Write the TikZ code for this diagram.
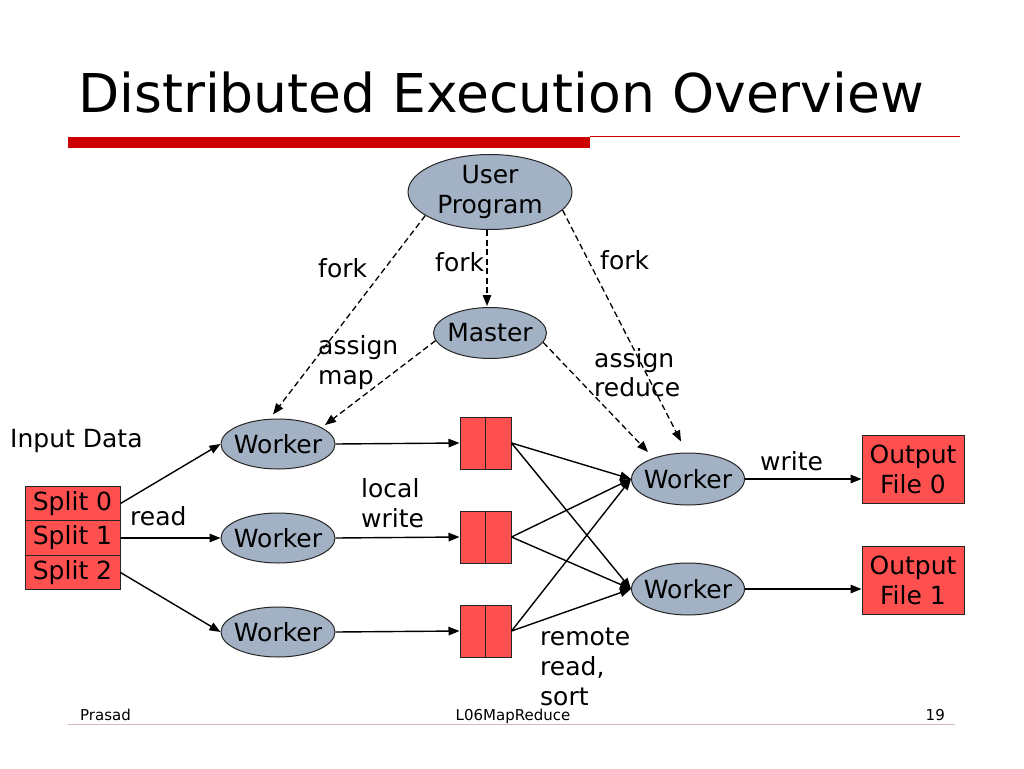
\documentclass[tikz,border=0pt]{standalone}
\usepackage{fontspec}
\setmainfont{DejaVu Sans}
\usetikzlibrary{shapes.geometric,arrows.meta}
\definecolor{nodefill}{RGB}{163,177,196}
\definecolor{boxred}{RGB}{255,80,80}
\definecolor{barred}{RGB}{204,0,0}
\definecolor{footline}{RGB}{215,180,188}
\begin{document}
\begin{tikzpicture}[x=1pt,y=-1pt,
  lbl/.style={font=\fontsize{25}{30}\selectfont, inner sep=0pt, anchor=base west},
  foot/.style={font=\fontsize{15}{18}\selectfont, inner sep=0pt},
  proc/.style={ellipse, draw=black!85, line width=1pt, fill=nodefill, inner sep=0pt,
    label={[font=\fontsize{25}{30}\selectfont, inner sep=0pt, align=center]center:#1}},
  store/.style={rectangle, draw=black!85, line width=1pt, fill=boxred, inner sep=0pt, font=\fontsize{25}{30}\selectfont},
  flow/.style={line width=1.4pt, -{Triangle[length=11pt,width=8.5pt]}},
  ctrl/.style={line width=1.3pt, dash pattern=on 6pt off 3.5pt, -{Triangle[length=11pt,width=8.5pt]}},
]
\useasboundingbox[fill=white] (0,0) rectangle (1024,768);

% title and rules
\node[anchor=base west, inner sep=0pt, font=\fontsize{53.5}{60}\selectfont] (title) at (78,112) {Distributed Execution Overview};
\fill[barred] (68,137) rectangle (590,148);
\draw[barred, line width=1pt] (590,136.5) -- (960,136.5);
\draw[footline, line width=1pt] (68,724.5) -- (955,724.5);

% nodes
\node[proc={User\\Program}, minimum width=164, minimum height=75] (up) at (490,192) {};
\node[proc=Master, minimum width=113, minimum height=51] (master) at (490,333) {};
\node[proc=Worker, minimum width=114, minimum height=50] (w1) at (278,444) {};
\node[proc=Worker, minimum width=114, minimum height=50] (w2) at (278,538) {};
\node[proc=Worker, minimum width=114, minimum height=50] (w3) at (278,632) {};
\node[proc=Worker, minimum width=113, minimum height=52] (r0) at (688,479) {};
\node[proc=Worker, minimum width=113, minimum height=52] (r1) at (688,589) {};

\node[store, minimum width=95, minimum height=34.5] (s0) at (72.5,503.5) {Split 0};
\node[store, minimum width=95, minimum height=34.5] (s1) at (72.5,538) {Split 1};
\node[store, minimum width=95, minimum height=34.5] (s2) at (72.5,572.5) {Split 2};

\node[store, minimum width=51, minimum height=52] (b1) at (485.5,443) {};
\node[store, minimum width=51, minimum height=52] (b2) at (485.5,537) {};
\node[store, minimum width=51, minimum height=52] (b3) at (485.5,631) {};
\draw[black!85, line width=1pt] (b1.north) -- (b1.south);
\draw[black!85, line width=1pt] (b2.north) -- (b2.south);
\draw[black!85, line width=1pt] (b3.north) -- (b3.south);

\node[store, minimum width=102, minimum height=68, align=center] (o0) at (913,469) {Output\\File 0};
\node[store, minimum width=102, minimum height=68, align=center] (o1) at (913,580) {Output\\File 1};

% solid flows
\draw[flow] (s0.east) -- (w1.west);
\draw[flow] (s1.east) -- (w2.west);
\draw[flow] (s2.east) -- (w3.west);
\draw[flow] (w1.east) -- (b1.west);
\draw[flow] (w2.east) -- (b2.west);
\draw[flow] (w3.east) -- (b3.west);
\draw[flow] (b1.east) -- (r0.west);
\draw[flow] (b1.east) -- (r1.west);
\draw[flow] (b2.east) -- (r0.west);
\draw[flow] (b2.east) -- (r1.west);
\draw[flow] (b3.east) -- (r0.west);
\draw[flow] (b3.east) -- (r1.west);
\draw[flow] (r0.east) -- (r0.east -| o0.west);
\draw[flow] (r1.east) -- (r1.east -| o1.west);

% dashed control
\draw[ctrl] (up.200) -- ([shift={(-5,-4)}]w1.north);
\draw[ctrl] ([xshift=-3pt]up.south) -- ([xshift=-3pt,yshift=1pt]master.north);
\draw[ctrl] (up.-14) -- ([shift={(-7,-11)}]r0.north);
\draw[ctrl] (master.188) -- ([shift={(47,-19)}]w1.center);
\draw[ctrl] (master.-10) -- ([shift={(-40,-27)}]r0.center);

% labels
\node[lbl] (fork1) at (318,277) {fork};
\node[lbl] (fork2) at (435,271) {fork};
\node[lbl] (fork3) at (600,269) {fork};
\node[lbl] (am1) at (318,354) {assign};
\node[lbl] (am2) at (318,384) {map};
\node[lbl] (ar1) at (594,367) {assign};
\node[lbl] (ar2) at (594,396) {reduce};
\node[lbl] (input) at (10,447) {Input Data};
\node[lbl] (read) at (130,525) {read};
\node[lbl] (lw1) at (361,497) {local};
\node[lbl] (lw2) at (361,527) {write};
\node[lbl] (write) at (760,470) {write};
\node[lbl] (rr1) at (540,645) {remote};
\node[lbl] (rr2) at (540,675) {read,};
\node[lbl] (rr3) at (540,705) {sort};

% footer
\node[foot, anchor=base west] (fl) at (80,720) {Prasad};
\node[foot, anchor=base] (fc) at (513,720) {L06MapReduce};
\node[foot, anchor=base east] (fr) at (945,720) {19};
\end{tikzpicture}
\end{document}
